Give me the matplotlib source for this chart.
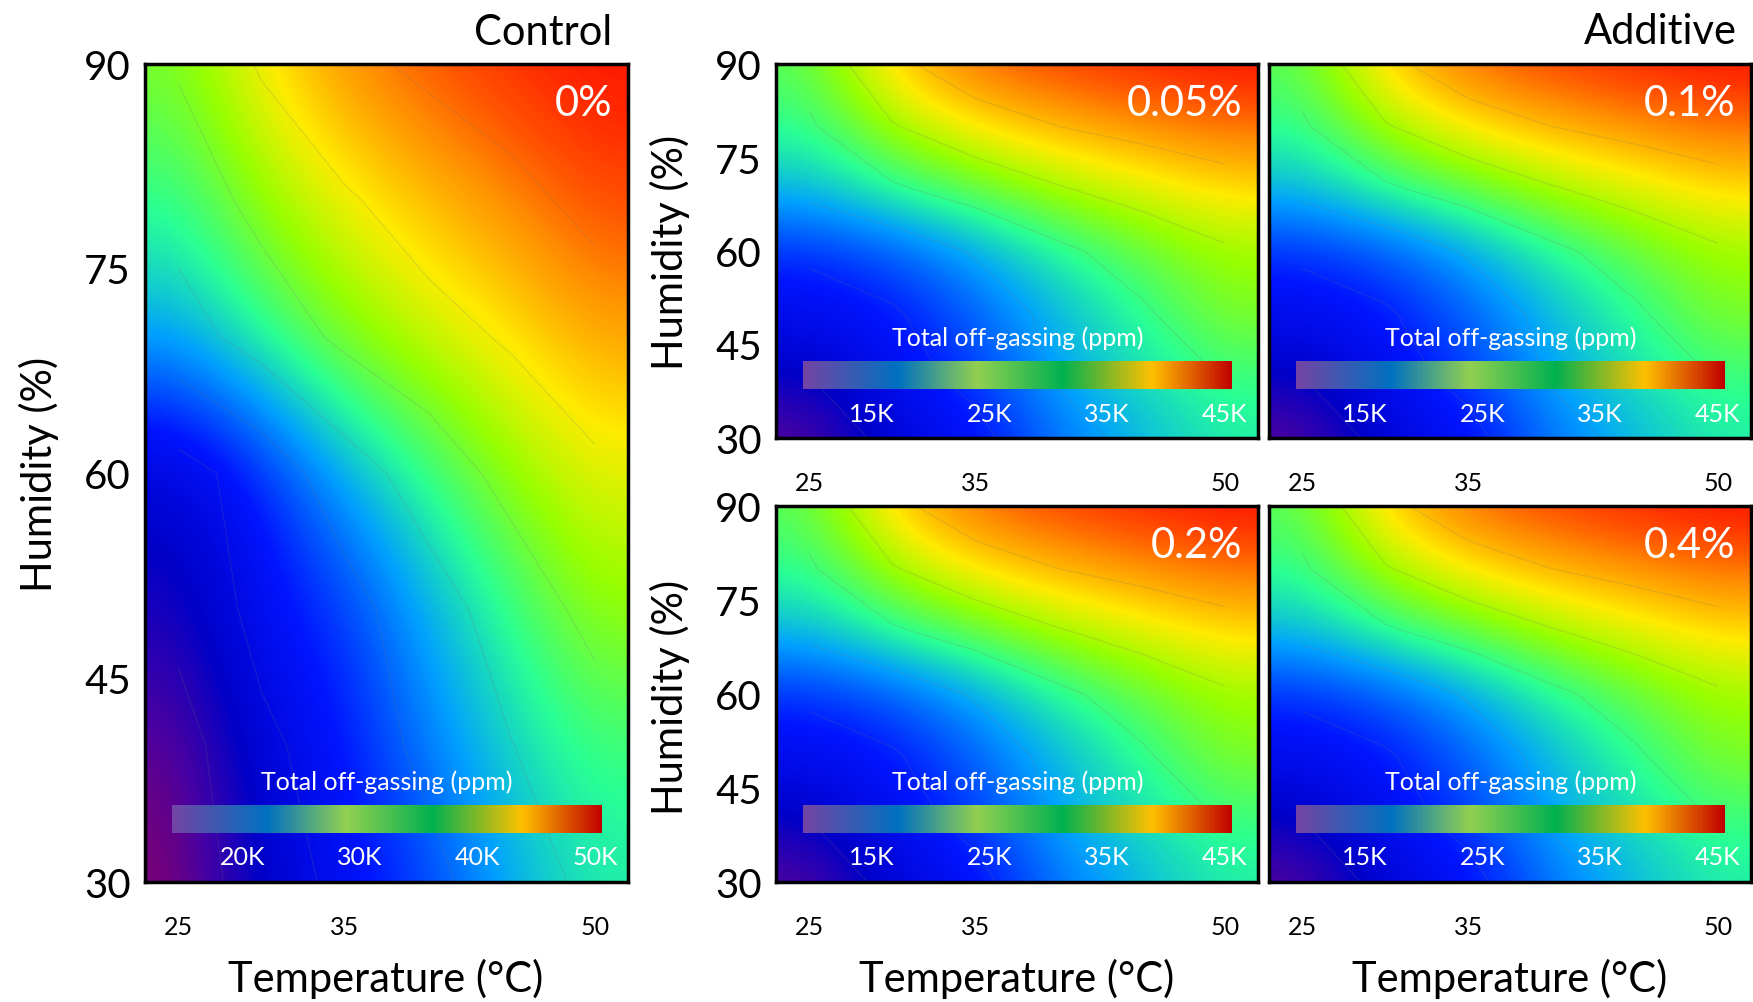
import numpy as np
import matplotlib
matplotlib.use("Agg")
import matplotlib.pyplot as plt
from matplotlib.colors import LinearSegmentedColormap, Normalize
from matplotlib.cm import ScalarMappable

plt.rcParams['font.family'] = ['Lato', 'DejaVu Sans']

# measurement grid: rows = humidity, columns = temperature
temperature_c = [25, 30, 35, 40, 45, 50]
humidity_pct = [30, 40, 50, 60, 70, 80, 90]

# total off-gassing (ppm), control sample (0% additive)
control_ppm = np.array([
    [14500, 21000, 24000, 26600, 31000, 34000],
    [16000, 22100, 25100, 29200, 32900, 35500],
    [19500, 24400, 26200, 31000, 35100, 39500],
    [21300, 25000, 30800, 35200, 39600, 42200],
    [31000, 35000, 39000, 41500, 43500, 46000],
    [35000, 39500, 42500, 45000, 47000, 49000],
    [38500, 43500, 47000, 48800, 50000, 50600],
])

# total off-gassing (ppm) with additive, same response for every dose
additive_ppm = np.array([
    [11500, 17200, 19400, 23800, 26700, 29200],
    [15500, 19000, 21600, 26000, 28500, 30700],
    [18700, 20100, 23000, 26700, 29900, 33600],
    [21200, 22700, 25900, 29600, 32500, 35000],
    [26700, 29900, 32500, 35200, 37200, 39000],
    [30000, 35200, 38500, 40500, 41800, 42800],
    [32000, 39500, 43000, 44200, 45000, 45600],
])
additive_doses = ['0.05%', '0.1%', '0.2%', '0.4%']

control_range = (14000, 50600)
additive_range = (9200, 45600)
control_ticks = [20000, 30000, 40000, 50000]
additive_ticks = [15000, 25000, 35000, 45000]
control_levels = [18000, 23000, 28000, 33000, 38000, 43000, 48000]
additive_levels = [15500, 20500, 25500, 30500, 35500, 40500]

surface_cmap = LinearSegmentedColormap.from_list('surface', [
    (0.00, '#8c0064'), (0.08, '#4b00a0'), (0.18, '#0000c8'), (0.30, '#0014ff'),
    (0.45, '#00a0ff'), (0.57, '#28ff96'), (0.70, '#96ff00'), (0.80, '#ffeb00'),
    (0.90, '#ff8c00'), (1.00, '#ff1400')])
bar_cmap = LinearSegmentedColormap.from_list('bar', [
    (0.0, '#7444a4'), (0.22, '#0070c0'), (0.405, '#92d050'), (0.606, '#00b050'),
    (0.815, '#ffc000'), (1.0, '#c00000')])

W, H = 1753, 1003
fig = plt.figure(figsize=(W / 100, H / 100), dpi=100)


def px_axes(x0, y0, x1, y1):
    return fig.add_axes([x0 / W, 1 - y1 / H, (x1 - x0) / W, (y1 - y0) / H])


def draw_panel(ax, z, vrange, ticks, levels, dose, show_y=True):
    norm = Normalize(*vrange)
    ax.imshow(z, origin='lower', extent=[22.5, 52.5, 25, 95], cmap=surface_cmap,
              norm=norm, interpolation='bicubic', aspect='auto')
    ax.contour(temperature_c, humidity_pct, z, levels=levels, colors='0.45',
               linewidths=0.9, alpha=0.18)
    ax.set_xlim(23, 52)
    ax.set_ylim(30, 90)
    ax.set_xticks([25, 35, 50])
    ax.set_yticks([30, 45, 60, 75, 90])
    ax.tick_params(axis='x', length=0, pad=24, labelsize=18)
    ax.tick_params(axis='y', length=0, pad=10, labelsize=29, labelleft=show_y)
    for s in ax.spines.values():
        s.set_linewidth(2.5)
    ax.annotate(dose, xy=(1, 1), xycoords='axes fraction', xytext=(-16, -20),
                textcoords='offset pixels', ha='right', va='top',
                color='white', fontsize=30)

    # inset colour bar, 28 px tall, 49 px above the bottom frame
    bb = ax.get_position()
    aw, ah = bb.width * W, bb.height * H
    cax = ax.inset_axes([27 / aw, 49 / ah, (aw - 53) / aw, 28 / ah])
    cb = fig.colorbar(ScalarMappable(norm, bar_cmap), cax=cax,
                      orientation='horizontal', ticks=ticks)
    cb.outline.set_visible(False)
    cb.ax.tick_params(length=0, pad=9, labelsize=18, labelcolor='white')
    cb.ax.set_xticklabels([f'{t // 1000}K' for t in ticks])
    cax.annotate('Total off-gassing (ppm)', xy=(0.5, 1), xycoords='axes fraction',
                 xytext=(0, 16), textcoords='offset pixels', ha='center',
                 va='baseline', color='white', fontsize=18)


ax_ctrl = px_axes(145, 65, 628, 883)
draw_panel(ax_ctrl, control_ppm, control_range, control_ticks, control_levels, '0%')

boxes = [(776, 65, 1258, 439), (1269, 65, 1751, 439),
         (776, 507, 1258, 883), (1269, 507, 1751, 883)]
for i, (box, dose) in enumerate(zip(boxes, additive_doses)):
    ax = px_axes(*box)
    draw_panel(ax, additive_ppm, additive_range, additive_ticks, additive_levels,
               dose, show_y=(i % 2 == 0))

fig.text(612 / W, 1 - 45 / H, 'Control', ha='right', va='baseline', fontsize=30)
fig.text(1737 / W, 1 - 44 / H, 'Additive', ha='right', va='baseline', fontsize=30)

fig.text(39 / W, 1 - 474 / H, 'Humidity (%)', rotation=90, ha='center', va='center', fontsize=30)
fig.text(670 / W, 1 - 252 / H, 'Humidity (%)', rotation=90, ha='center', va='center', fontsize=30)
fig.text(670 / W, 1 - 697 / H, 'Humidity (%)', rotation=90, ha='center', va='center', fontsize=30)

for cx in (386, 1017, 1510):
    fig.text(cx / W, 1 - 992 / H, 'Temperature (°C)', ha='center', va='baseline', fontsize=30)

fig.savefig('out.png', dpi=100)
